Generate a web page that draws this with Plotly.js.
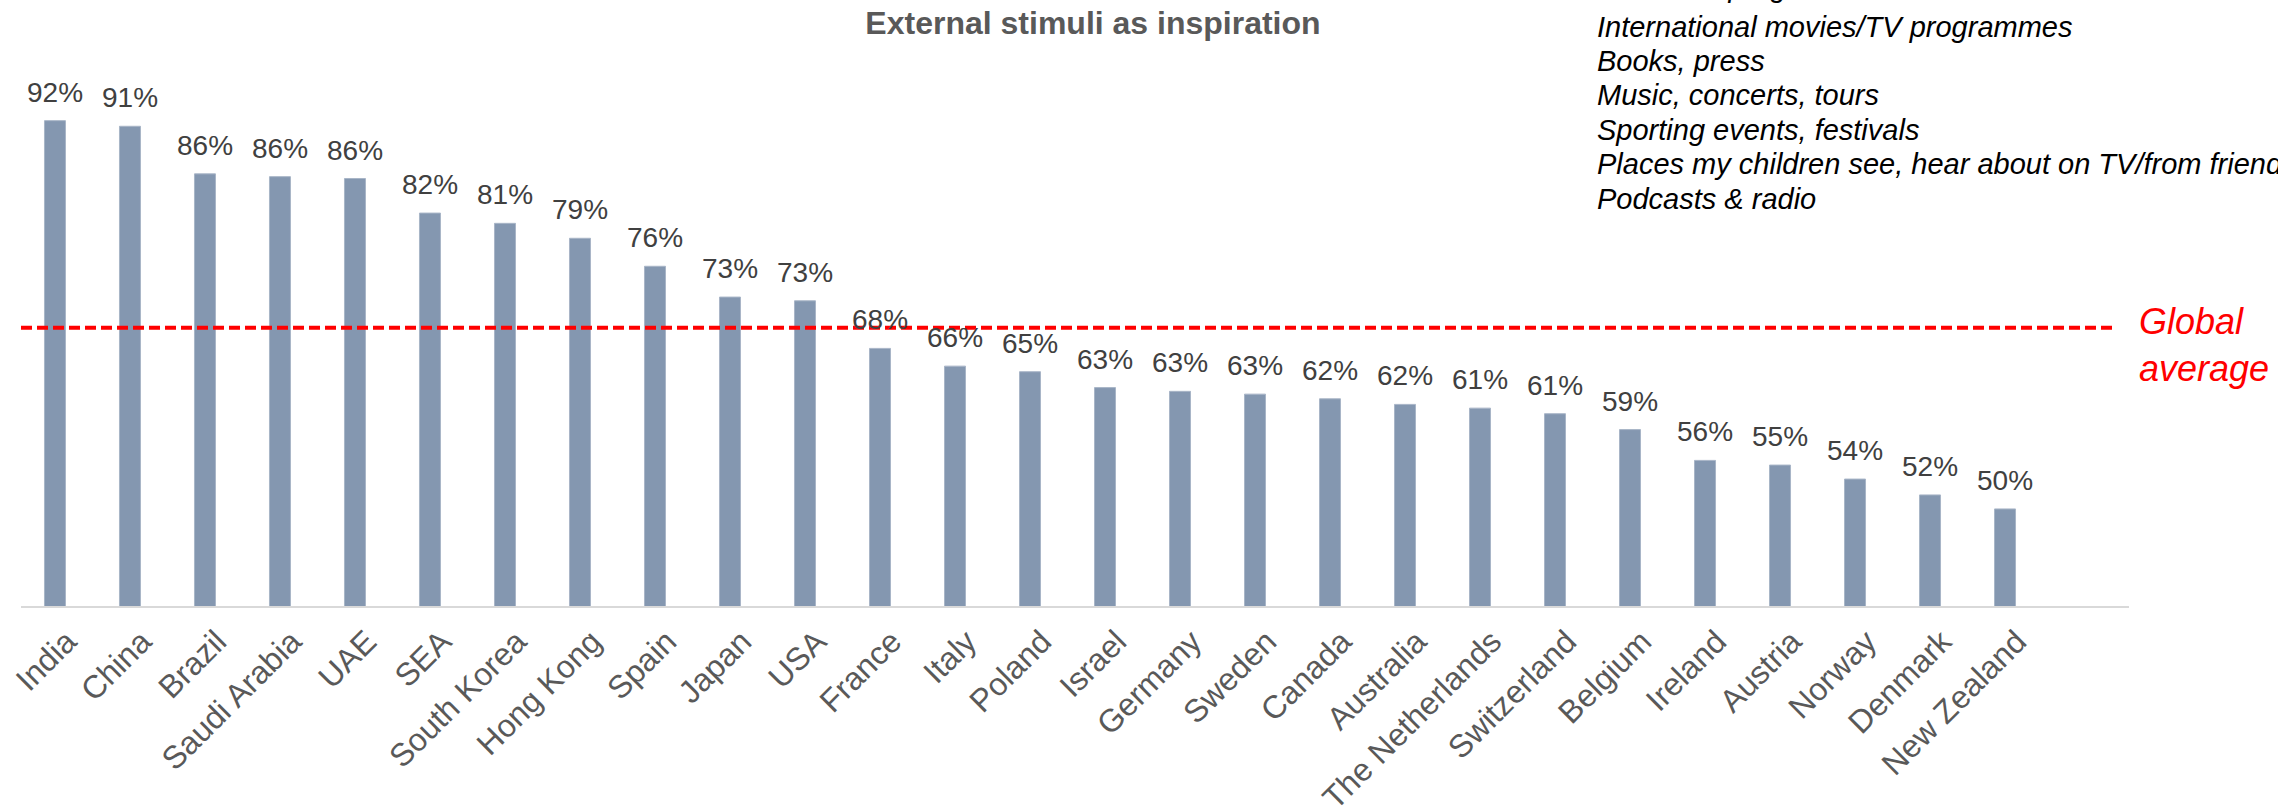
<!DOCTYPE html>
<html>
<head>
<meta charset="utf-8">
<script src="https://cdn.plot.ly/plotly-3.0.1.min.js"></script>
<style>html,body{margin:0;padding:0;background:#fff;}#chart{width:2278px;height:806px;}</style>
</head>
<body>
<div id="chart"></div>
<script>
var countries = ["India","China","Brazil","Saudi Arabia","UAE","SEA","South Korea","Hong Kong","Spain","Japan","USA","France","Italy","Poland","Israel","Germany","Sweden","Canada","Australia","The Netherlands","Switzerland","Belgium","Ireland","Austria","Norway","Denmark","New Zealand"];
var shares = [92.0,91.4,86.3,86.0,85.8,82.1,81.0,79.4,76.4,73.1,72.7,67.6,65.7,65.1,63.4,63.0,62.7,62.2,61.6,61.2,60.6,58.9,55.6,55.1,53.6,51.9,50.4];
var globalAverage = 69.8;
var chartTitle = "External stimuli as inspiration";
var averageLabel = "Global<br>average";
var stimuliList = ["Travel TV programmes","International movies/TV programmes","Books, press","Music, concerts, tours","Sporting events, festivals","Places my children see, hear about on TV/from friends","Podcasts & radio"];

var FONT = "Liberation Sans, Arial, sans-serif";

var trace = {
  type: "bar",
  x: countries,
  y: shares,
  marker: {color: "#8497B0", line: {color: "#A8B5C7", width: 1}},
  hoverinfo: "x+y"
};

var annotations = [];
for (var i = 0; i < countries.length; i++) {
  annotations.push({
    x: countries[i], y: shares[i], xref: "x", yref: "y",
    text: Math.round(shares[i]) + "%",
    showarrow: false, yanchor: "bottom", xanchor: "center", yshift: 11,
    font: {family: FONT, size: 28, color: "#404040"}
  });
}
annotations.push({
  x: 1.004, xref: "paper", y: globalAverage, yref: "y",
  text: averageLabel, showarrow: false, xanchor: "left", yanchor: "top", yshift: 29, align: "left",
  font: {family: FONT, size: 36, color: "#FF0000", style: "italic"}
});
for (var j = 0; j < stimuliList.length; j++) {
  annotations.push({
    x: 0.7468, xref: "paper", y: 1.096 - j * 0.0614 + (j === 0 ? 0.009 : 0), yref: "paper",
    text: stimuliList[j], showarrow: false, xanchor: "left", yanchor: "middle", align: "left",
    font: {family: FONT, size: 29, color: "#000000", style: "italic"}
  });
}

var layout = {
  width: 2278, height: 806,
  margin: {l: 21, r: 149, t: 46, b: 200, pad: 0},
  paper_bgcolor: "#ffffff", plot_bgcolor: "#ffffff",
  showlegend: false,
  bargap: 0.72,
  title: {
    text: "<b>" + chartTitle + "</b>",
    x: 0.4798, xanchor: "center", xref: "container",
    y: 0.985, yanchor: "top", yref: "container",
    font: {family: FONT, size: 32, color: "#595959"}
  },
  xaxis: {
    type: "category",
    range: [-0.453, 27.653],
    tickangle: -45,
    tickfont: {family: FONT, size: 32, color: "#595959"},
    showline: true, linecolor: "#D9D9D9", linewidth: 2,
    ticks: "", showgrid: false, zeroline: false,
    ticklabelstandoff: 2,
    ticklabelshift: 12
  },
  yaxis: {
    range: [40, 100],
    visible: false, showgrid: false, zeroline: false
  },
  shapes: [{
    type: "line", xref: "paper", yref: "y",
    x0: 0, x1: 0.994, y0: globalAverage, y1: globalAverage,
    line: {color: "#FF0000", width: 4, dash: "11px,5px"}
  }],
  annotations: annotations
};

Plotly.newPlot("chart", [trace], layout, {displayModeBar: false, staticPlot: true});
</script>
</body>
</html>
